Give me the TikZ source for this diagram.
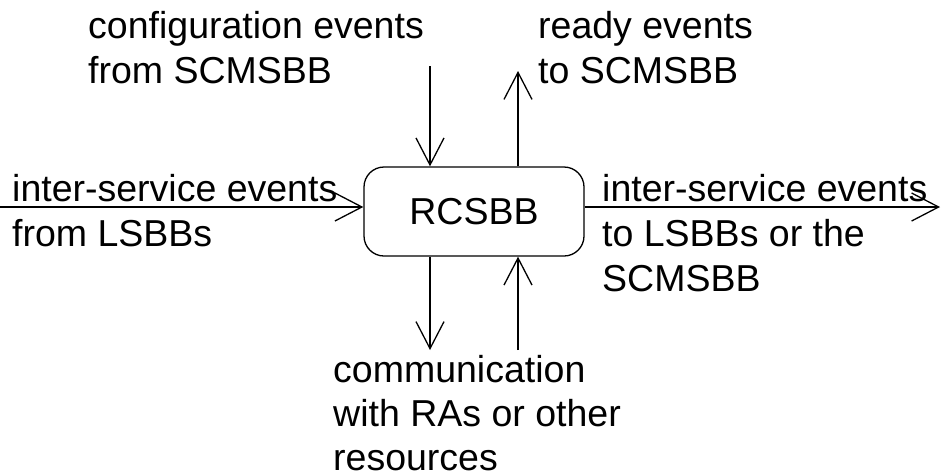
\documentclass[tikz,border=0pt]{standalone}
\usepackage{fontspec}
\setmainfont{Liberation Sans}
\usetikzlibrary{arrows.meta}
\tikzstyle{arr} = [line width=1.3pt, -{Straight Barb[length=27pt, width=28pt, line width=1.3pt]}]

\begin{document}
\begin{tikzpicture}[x=1pt, y=-1pt,
		lbl/.style={anchor=north west, inner sep=0pt, align=left,
			font=\fontsize{37.5}{45}\selectfont},
		bb/.style={draw, line width=1.3pt, rounded corners=20pt,
			minimum width=220pt, minimum height=89pt, inner sep=0pt,
			font=\fontsize{37.5}{45}\selectfont}]
		
		\useasboundingbox (0,0) rectangle (941,475);
		
		\node[bb] (rcsbb) at (474,211.5) {RCSBB};
		
		\coordinate (cfgin) at (430,66);
		\coordinate (rdyout) at (518,71);
		\coordinate (comout) at (430,350);
		\coordinate (comin) at (518,350);
		\coordinate (lsin) at (0,207);
		\coordinate (lsout) at (940,207);
		
		\draw[arr] (cfgin) -- (cfgin |- rcsbb.north);
		\draw[arr] (rdyout |- rcsbb.north) -- (rdyout);
		\draw[arr] (cfgin |- rcsbb.south) -- (comout);
		\draw[arr] (comin) -- (comin |- rcsbb.south);
		\draw[arr] (lsin) -- (lsin -| rcsbb.west);
		\draw[arr] (lsout -| rcsbb.east) -- (lsout);
		
		\node[lbl] (cfgtxt) at (88,11) {configuration events\\from SCMSBB};
		\node[lbl] (rdytxt) at (538,11) {ready events\\to SCMSBB};
		\node[lbl] (lsintxt) at (12,174) {inter-service events\\from LSBBs};
		\node[lbl] (lsouttxt) at (602,174) {inter-service events\\to LSBBs or the\\SCMSBB};
		\node[lbl, font=\fontsize{37.5}{44}\selectfont] (comtxt) at (333,355) {communication\\with RAs or other\\resources};
		
	\end{tikzpicture}
\end{document}
